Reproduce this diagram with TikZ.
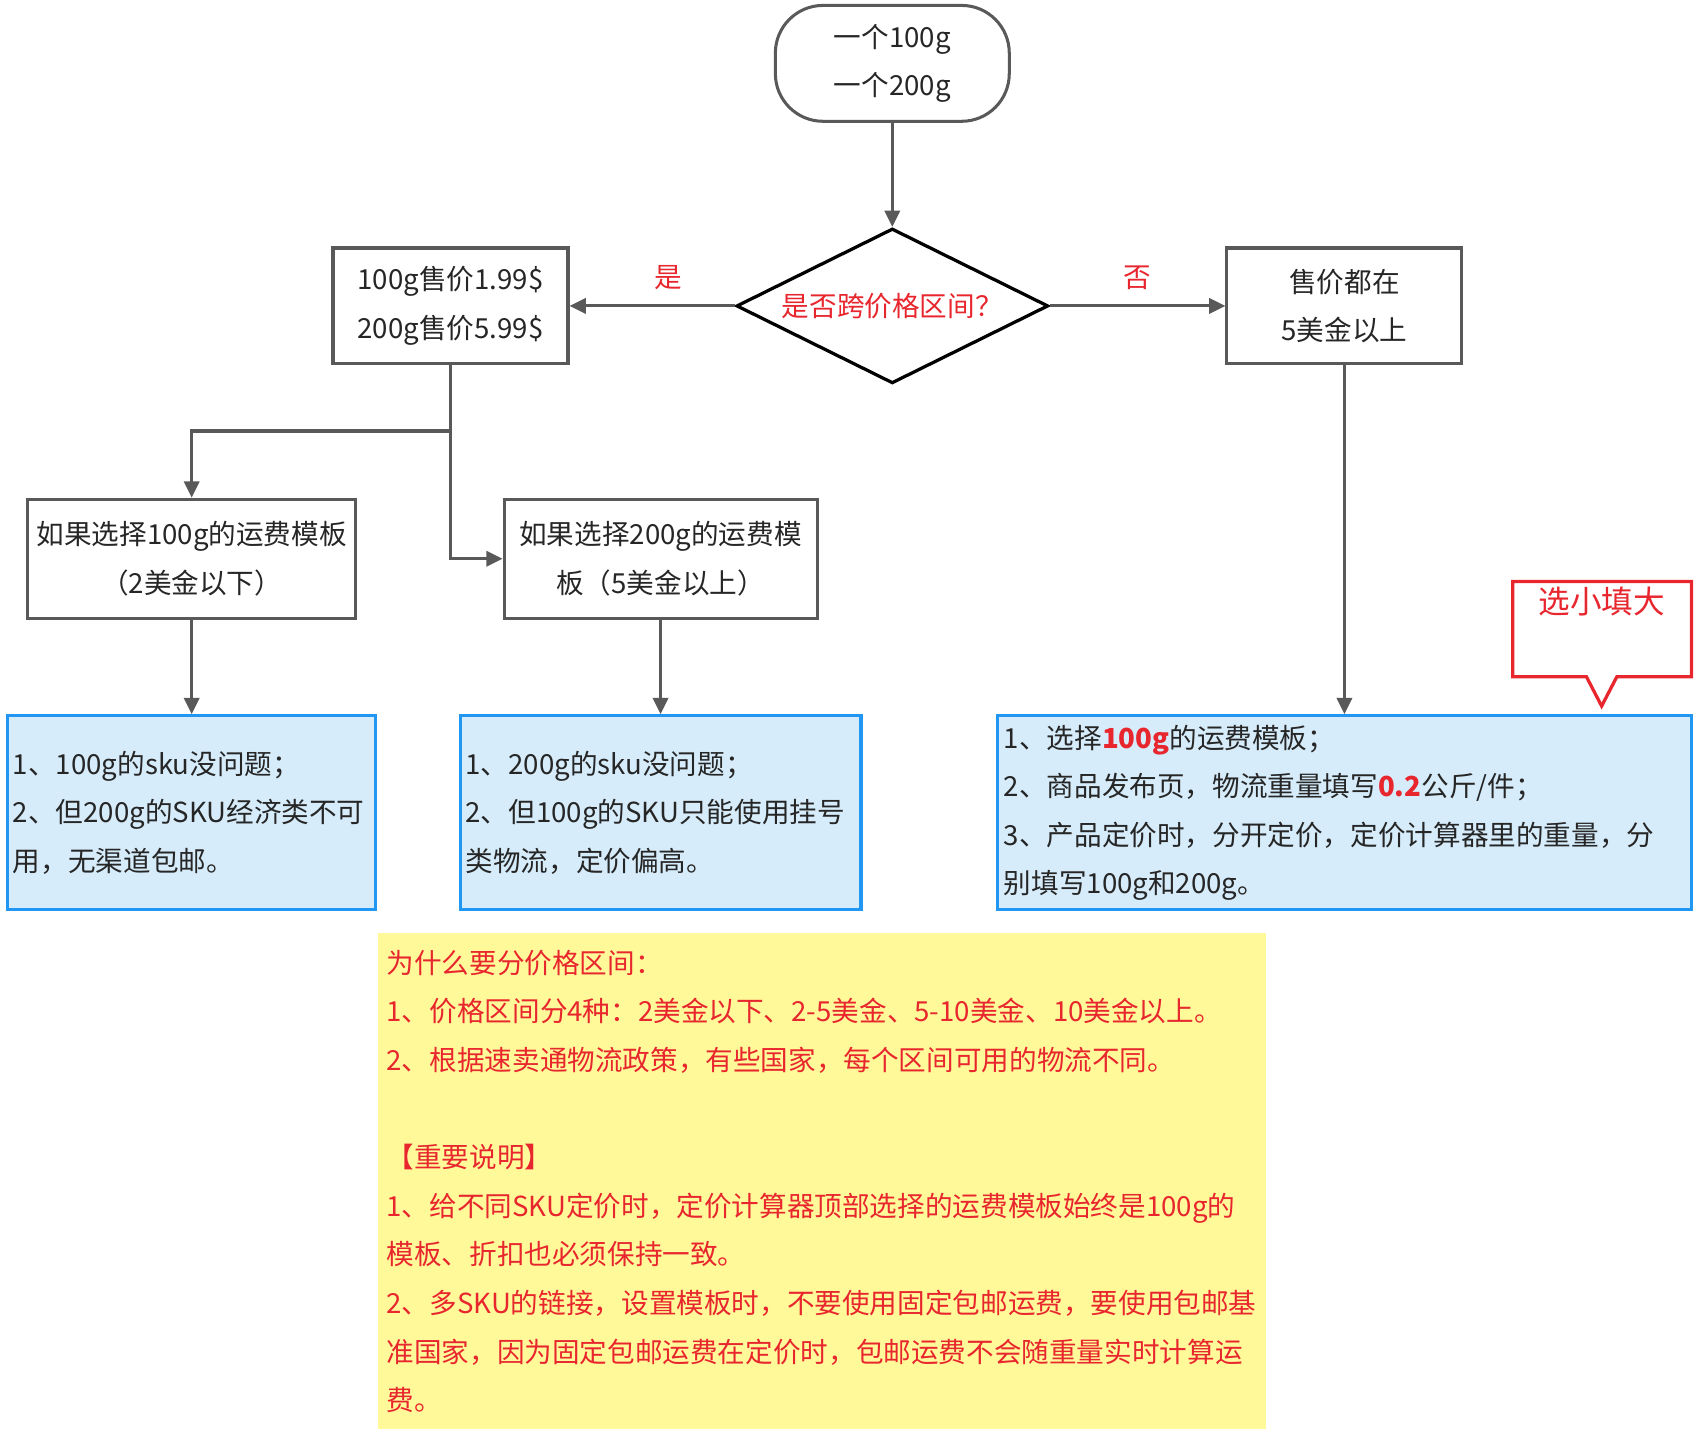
\documentclass[tikz,border=0pt]{standalone}
\usepackage{fontspec}
\setmainfont{Noto Sans CJK SC}
\usetikzlibrary{shapes.geometric,arrows.meta}
\definecolor{linegray}{RGB}{89,89,89}
\definecolor{txtgray}{RGB}{38,38,38}
\definecolor{redtxt}{RGB}{232,38,46}
\definecolor{bluebd}{RGB}{33,150,243}
\definecolor{bluefill}{RGB}{214,236,250}
\definecolor{notefill}{RGB}{255,249,153}
\tikzset{
  box/.style={draw=linegray, line width=1.4pt, text=txtgray, align=center, inner sep=0pt},
  info/.style={draw=bluebd, fill=bluefill, line width=1.5pt, text=txtgray, align=left,
    inner xsep=2.5pt, inner ysep=0pt, minimum height=89.5pt},
  flow/.style={draw=linegray, line width=1.4pt, -{Triangle[length=7.5pt,width=7pt]}},
  lab/.style={text=redtxt, inner sep=0pt},
  tipbox/.style={draw=redtxt, line width=1.5pt, fill=white, line join=miter}
}
\begin{document}
\begin{tikzpicture}[x=0.5pt,y=-0.5pt,font=\fontsize{12.75}{22.45}\selectfont]
  \useasboundingbox (0,0) rectangle (1568,1324);
  % top of the chart
  \node[box, rounded corners=22pt, minimum width=108pt, minimum height=53.5pt] (start) at (824,58.5) {一个100g\\一个200g};
  \node[diamond, draw=black, line width=1.5pt, text=redtxt, aspect=2, inner sep=0pt,
    minimum width=144pt, minimum height=71.5pt] (dia) at (824,282.5) {是否跨价格区间？};
  \node[box, minimum width=108.5pt, minimum height=53.5pt] (boxA) at (416,282.5) {100g售价1.99\$\\200g售价5.99\$};
  \node[box, minimum width=108.5pt, minimum height=53.5pt] (boxB) at (1241.5,282.5) {售价都在\\5美金以上};
  \node[box, minimum width=151.5pt, minimum height=55pt] (boxC) at (177,516) {如果选择100g的运费模板\\（2美金以下）};
  \node[box, minimum width=144.5pt, minimum height=55pt] (boxD) at (610,516) {如果选择200g的运费模\\板（5美金以上）};
  \coordinate (split) at (416,398);
  % results
  \node[info, text width=165pt] (blue1) at (177,750.5) {1、100g的sku没问题；\\2、但200g的SKU经济类不可\\用，无渠道包邮。};
  \node[info, text width=180pt] (blue2) at (610,750.5) {1、200g的sku没问题；\\2、但100g的SKU只能使用挂号\\类物流，定价偏高。};
  \node[info, text width=314.5pt, inner xsep=3pt] (blue3) at (1241.5,750.5) {1、选择\textbf{\color{redtxt}100g}的运费模板；\\2、商品发布页，物流重量填写\textbf{\color{redtxt}0.2}公斤/件；\\3、产品定价时，分开定价，定价计算器里的重量，分\\别填写100g和200g。};
  \draw[tipbox] (1397,537) -- (1562,537) -- (1562,625) -- (1493,625) -- (1479,652) -- (1465,625) -- (1397,625) -- cycle;
  \node[lab, font=\fontsize{14.6}{18}\selectfont] (tip) at (1479,555) {选小填大};
  \node[fill=notefill, text=redtxt, align=left, text width=402pt, inner xsep=4pt, inner ysep=0pt,
    minimum height=229pt] (note) at (759,1091) {为什么要分价格区间：\\1、价格区间分4种：2美金以下、2-5美金、5-10美金、10美金以上。\\2、根据速卖通物流政策，有些国家，每个区间可用的物流不同。\\\mbox{}\\【重要说明】\\1、给不同SKU定价时，定价计算器顶部选择的运费模板始终是100g的\\模板、折扣也必须保持一致。\\2、多SKU的链接，设置模板时，不要使用固定包邮运费，要使用包邮基\\准国家，因为固定包邮运费在定价时，包邮运费不会随重量实时计算运\\费。};
  % connectors
  \draw[flow] (start) -- (dia);
  \draw[flow] (dia) -- node[lab, pos=0.4, yshift=13pt] (yes) {是} (boxA);
  \draw[flow] (dia) -- node[lab, pos=0.5, yshift=13pt] (no) {否} (boxB);
  \draw[draw=linegray, line width=1.4pt] (boxA) -- (split);
  \draw[flow] (split) -| (boxC);
  \draw[flow] (split) |- (boxD);
  \draw[flow] (boxC) -- (blue1);
  \draw[flow] (boxD) -- (blue2);
  \draw[flow] (boxB) -- (blue3);
\end{tikzpicture}
\end{document}
